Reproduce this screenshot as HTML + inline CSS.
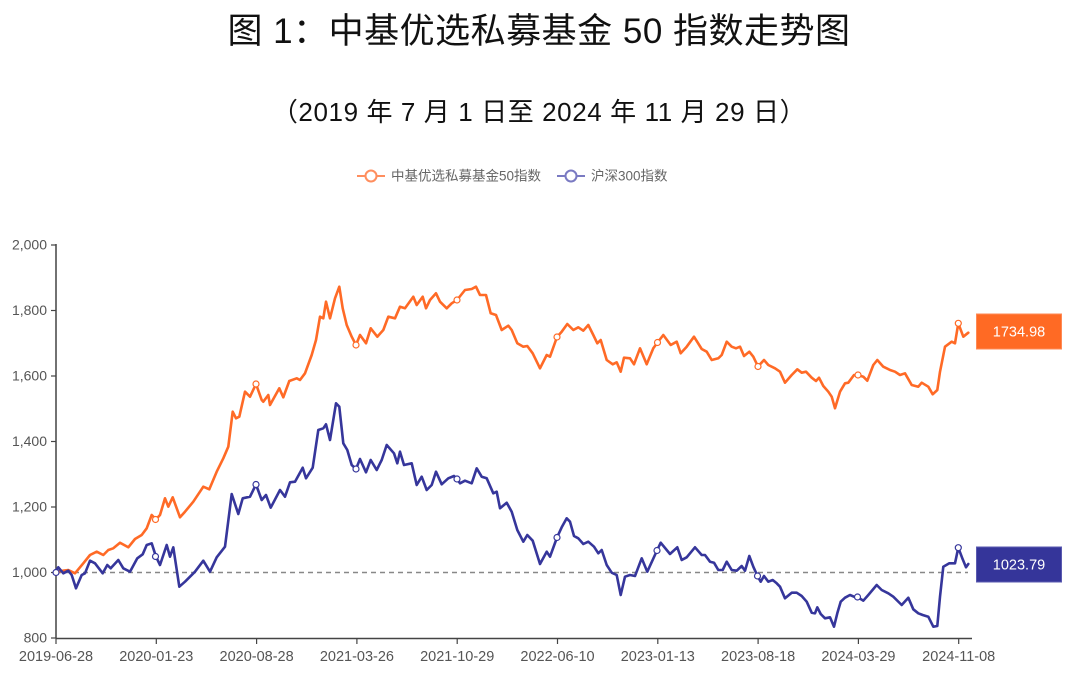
<!DOCTYPE html>
<html>
<head>
<meta charset="utf-8">
<style>
  html,body{margin:0;padding:0;background:#ffffff;}
  svg{display:block;}
  .t{font-family:"Liberation Sans","Noto Sans CJK SC",sans-serif;}
  .ax{font-family:"Liberation Sans",sans-serif;font-size:14px;fill:#555555;}
</style>
</head>
<body>
<svg width="1080" height="674" viewBox="0 0 1080 674" xmlns="http://www.w3.org/2000/svg">
  <rect width="1080" height="674" fill="#ffffff"/>

  <!-- Title -->
  <text class="t" x="539" y="43" text-anchor="middle" font-size="35" letter-spacing="0.5" fill="#111">图 1：中基优选私募基金 50 指数走势图</text>
  <text class="t" x="539" y="121" text-anchor="middle" font-size="26" letter-spacing="0.6" fill="#111">（2019 年 7 月 1 日至 2024 年 11 月 29 日）</text>

  <!-- Legend -->
  <g>
    <line x1="357" y1="176" x2="385" y2="176" stroke="#FF8E5E" stroke-width="2"/>
    <circle cx="371" cy="176" r="5.5" fill="#fff" stroke="#FF8E5E" stroke-width="2"/>
    <text class="t" x="391" y="180.5" font-size="13.5" fill="#666">中基优选私募基金50指数</text>
    <line x1="557" y1="176" x2="585" y2="176" stroke="#7A7AC2" stroke-width="2"/>
    <circle cx="571" cy="176" r="5.5" fill="#fff" stroke="#7A7AC2" stroke-width="2"/>
    <text class="t" x="591" y="180.5" font-size="13.5" fill="#666">沪深300指数</text>
  </g>

  <!-- Axes -->
  <line x1="56" y1="244" x2="56" y2="638.5" stroke="#444" stroke-width="1.5"/>
  <line x1="55.5" y1="638.5" x2="972" y2="638.5" stroke="#444" stroke-width="1.5"/>
  <!-- y ticks -->
  <g stroke="#444" stroke-width="1.2">
    <line x1="51" y1="245" x2="56" y2="245"/>
    <line x1="51" y1="310.5" x2="56" y2="310.5"/>
    <line x1="51" y1="376" x2="56" y2="376"/>
    <line x1="51" y1="441.5" x2="56" y2="441.5"/>
    <line x1="51" y1="507" x2="56" y2="507"/>
    <line x1="51" y1="572.5" x2="56" y2="572.5"/>
    <line x1="51" y1="638" x2="56" y2="638"/>
  </g>
  <g class="ax" text-anchor="end">
    <text x="47" y="249.5">2,000</text>
    <text x="47" y="315">1,800</text>
    <text x="47" y="380.5">1,600</text>
    <text x="47" y="446">1,400</text>
    <text x="47" y="511.5">1,200</text>
    <text x="47" y="577">1,000</text>
    <text x="47" y="642.5">800</text>
  </g>
  <!-- x ticks -->
  <g stroke="#444" stroke-width="1.2">
    <line x1="56" y1="638" x2="56" y2="644"/>
    <line x1="156.3" y1="638" x2="156.3" y2="644"/>
    <line x1="256.6" y1="638" x2="256.6" y2="644"/>
    <line x1="356.9" y1="638" x2="356.9" y2="644"/>
    <line x1="457.2" y1="638" x2="457.2" y2="644"/>
    <line x1="557.5" y1="638" x2="557.5" y2="644"/>
    <line x1="657.8" y1="638" x2="657.8" y2="644"/>
    <line x1="758.1" y1="638" x2="758.1" y2="644"/>
    <line x1="858.4" y1="638" x2="858.4" y2="644"/>
    <line x1="958.7" y1="638" x2="958.7" y2="644"/>
  </g>
  <g class="ax" text-anchor="middle" style="font-size:14.5px">
    <text x="56" y="661">2019-06-28</text>
    <text x="156.3" y="661">2020-01-23</text>
    <text x="256.6" y="661">2020-08-28</text>
    <text x="356.9" y="661">2021-03-26</text>
    <text x="457.2" y="661">2021-10-29</text>
    <text x="557.5" y="661">2022-06-10</text>
    <text x="657.8" y="661">2023-01-13</text>
    <text x="758.1" y="661">2023-08-18</text>
    <text x="858.4" y="661">2024-03-29</text>
    <text x="958.7" y="661">2024-11-08</text>
  </g>

  <!-- Baseline dashed -->
  <line x1="56" y1="572.5" x2="968" y2="572.5" stroke="#888" stroke-width="1.5" stroke-dasharray="5,4"/>

  <!-- Orange series -->
  <polyline fill="none" stroke="#FF6A26" stroke-width="2.6" stroke-linejoin="round" stroke-linecap="round"
    points="55,572.3 63.3,570.7 68.3,570 75,573.3 83.3,563.3 90,555 96.7,551.7 103.3,555 108.3,550 113.3,548.3 120,542.7 128.3,547.3 135,539 141.7,535 146.7,528.3 151.7,515 156,519.3 160,515 165,498.3 168.3,506.7 172.7,497.3 180,517.3 185,511.7 193.3,501.7 203.3,486.7 209.3,489.3 216.7,471.7 223.3,458.3 228.3,446.7 232.7,411.7 236,418.3 239.3,416.7 245,391.7 250,396.7 256,384 261.7,400 263.3,401.7 268.3,395 270,405 279.3,388.3 283.3,397.3 289.3,381 296.7,378.3 300,380 305,373.3 311.7,355 316,340 320,316.7 323.3,318.3 326,301.7 330,318.3 335,298.3 339.3,286.7 342.7,308.3 346.7,325 351.7,336.7 356,345 360,335 366,343.3 370.7,328.3 377.3,336.7 383.3,330 388.3,316.7 395,318.3 400,306.7 405,308.3 413.3,296.7 416.7,305 422.7,296.7 426,308.3 430,300 436,293.3 440,301.7 446.7,308.3 451.7,303.3 457,300 465,290 471.7,289 476,286.7 480,295 486,295 490.7,313.3 496,315 501.7,330 508.3,325.7 511.7,330 517.3,343.3 523.3,346.7 527.3,346 532.7,353.3 540,368.3 546.7,355 550,356.7 557,337 561.7,331.7 567.3,324 573.3,330 578.3,327.3 583.3,330.7 588.3,325 593.3,335 597.3,343.3 600.7,340 606.7,360 612.7,364.3 616.7,362.3 620.7,371.7 624,357.7 630,358.3 634,364.3 640,348.3 646.7,364.3 653.3,348.3 657.5,342.5 663.3,335 670.7,345 676.7,341.7 680.7,353.3 686.7,346.7 694,336.7 701.7,349 706.7,351.7 711.7,360 718.3,358.3 721.7,355 726.7,341.7 731.7,346.7 736,348.3 740,346.7 744,356 749.3,351.7 753.3,356.7 758,366.5 764,360 768.3,365 775,368.3 780,371.7 785,382.7 791.7,375 797.3,369.3 801.7,372.7 806,371.7 811.7,377.7 816,381 819,377.7 823.3,386 828.3,391.7 831.7,396.7 835,408.3 840,391.7 845,383.3 848.3,382.7 854,375 858,375 863.3,376.7 867.3,380.7 873.3,365 877.3,360 883.3,366.7 890,370 895,371.7 900,375 905,373.3 911.7,385 918.3,386.7 921.7,382.7 928.3,386.7 932.7,394.3 937.3,390 940,371.7 945,346.7 951.7,341.7 955,343.3 958.3,323.3 963.3,336.7 968.3,332.7"/>

  <!-- Blue series -->
  <polyline fill="none" stroke="#36369B" stroke-width="2.6" stroke-linejoin="round" stroke-linecap="round"
    points="55,572.3 58.3,567.3 63.3,573.3 68.3,570.7 71.7,575 76,588.3 81.7,575 85,573.3 90,560.7 95,563.3 102.7,573.3 107.3,565 110.7,568.3 118.3,560 123.3,568.3 130,571.7 137.3,558.3 142.7,554.3 146.7,545 151.7,543.3 156,556.7 160,565 166.7,545 170,556.7 173.3,547.3 179.3,586.7 185,581.7 195,571.7 203.3,560.7 210,571.7 216.7,557.3 225,546.7 231.7,494 238.3,514 242.7,498.3 250,496.7 256,484.5 261.7,500 266,495 270.7,507.7 280,490 285,496.7 290,482.3 295,481.7 302.7,467.7 306,478.3 312.7,467.7 318.3,430 323.3,428.3 326,424.3 330,440 336,403.3 339.3,406.7 343.3,443.3 347.3,450 351.7,465 356,469 360,459 366,472.3 370.7,460 376.7,470 381.7,460 386.7,445 394,453.3 397.3,463.3 400,451.7 404,465 411.7,463.3 416.7,485 421.7,476.7 426.7,490 431.7,485 436,471.7 441.7,484.3 448.3,478.3 454,476 457,479 460,483.3 465,480.7 471.7,483.3 476.7,468.3 481.7,476.7 486.7,478.3 493.3,493.3 496.7,491.7 500,508.3 506.7,502.7 511.7,511.7 517.3,530 523.3,541.7 527.3,535 532.7,540.7 540,564 546.7,551.7 550,556.7 557,537.5 561.7,527.3 566.7,518.3 570,521.7 574,536 578.3,538.3 583.3,544 588.3,541.7 594,546.7 598.3,553.3 601.7,550 606.7,565 611.7,572.7 616.7,575 620.7,595 625,576.7 630,575 635,576 641.7,558.3 647.3,571.7 657,550.5 660.7,542.7 670,554 677.3,547.3 681.7,560 686.7,557.3 695,547.3 701.7,555 705,555 710,561.7 714,562.7 718.3,570 722.7,570 726.7,561.7 731.7,570 736.7,570.7 741.7,566 745,570.7 749.3,556 753.3,566.7 757.5,576 760.7,581.7 764,576 768.3,581.7 772.7,580 776.7,583.3 780,586.7 785,598.3 791.7,592.7 796.7,592.7 801.7,596 806.7,601.7 811.7,612.7 815,613.3 817.3,607.3 820.7,614 825,618.3 830,617.3 834,626.7 837.3,613.3 840.7,601.7 845,597.7 850,595 854,596.7 857.5,597 863.3,600.7 868.3,595 876.7,585 881.7,590 888.3,593.3 893.3,596.7 901.7,605 908.3,597.7 913.3,609.3 918.3,613.3 922.7,615 928.3,616.7 933.3,626.7 937.3,626 940,596.7 943.3,566.7 949.3,563.3 955,563.3 958.3,547.7 962.7,559.3 966,567.3 968.3,564"/>

  <!-- Orange markers -->
  <g fill="#fff" stroke="#FF6A26" stroke-width="1.2">
    <circle cx="155.5" cy="519.5" r="3"/>
    <circle cx="256" cy="384" r="3"/>
    <circle cx="356" cy="345" r="3"/>
    <circle cx="457" cy="300" r="3"/>
    <circle cx="557" cy="337" r="3"/>
    <circle cx="657.5" cy="342.5" r="3"/>
    <circle cx="758" cy="366.5" r="3"/>
    <circle cx="858" cy="375" r="3"/>
    <circle cx="958.3" cy="323.3" r="3"/>
  </g>
  <!-- Blue markers -->
  <g fill="#fff" stroke="#36369B" stroke-width="1.2">
    <circle cx="56" cy="572.5" r="3"/>
    <circle cx="155.5" cy="556.5" r="3"/>
    <circle cx="256" cy="484.5" r="3"/>
    <circle cx="356" cy="469" r="3"/>
    <circle cx="457" cy="479" r="3"/>
    <circle cx="557" cy="537.5" r="3"/>
    <circle cx="657" cy="550.5" r="3"/>
    <circle cx="757.5" cy="576" r="3"/>
    <circle cx="857.5" cy="597" r="3"/>
    <circle cx="958.3" cy="547.7" r="3"/>
  </g>

  <!-- End labels -->
  <rect x="976.5" y="314" width="85" height="35" fill="#FF6A24" stroke="#FF8A55" stroke-width="1"/>
  <text x="1019" y="336.5" text-anchor="middle" font-family="Liberation Sans, sans-serif" font-size="14.5" fill="#ffffff">1734.98</text>
  <rect x="976.5" y="547" width="85" height="35" fill="#35359A" stroke="#5A5AB0" stroke-width="1"/>
  <text x="1019" y="569.5" text-anchor="middle" font-family="Liberation Sans, sans-serif" font-size="14.5" fill="#ffffff">1023.79</text>
</svg>
</body>
</html>
